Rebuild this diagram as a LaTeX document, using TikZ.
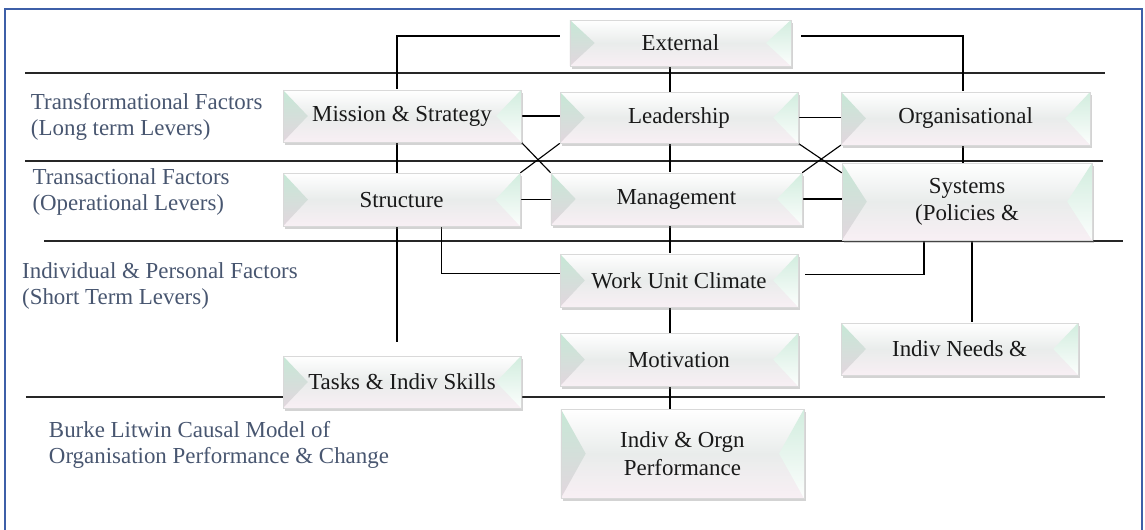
\documentclass[tikz,border=0pt]{standalone}
\usepackage{fontspec}
\setmainfont{Liberation Serif}
\usepackage{tikz}
\usetikzlibrary{shadows, backgrounds}
\definecolor{framebl}{RGB}{61,95,168}
\definecolor{tiertext}{RGB}{72,86,112}
\definecolor{mint}{RGB}{198,232,214}
\definecolor{faceshade}{RGB}{233,236,235}
\definecolor{facepink}{RGB}{248,239,244}
\definecolor{bevelgrey}{RGB}{226,214,222}
\tikzset{
  lever/.style={draw=black!15, line width=0.4pt, inner sep=0pt, align=center,
    text=black!90, font=\fontsize{16.3}{19.4}\selectfont,
    top color=white, bottom color=facepink, middle color=faceshade,
    drop shadow={shadow xshift=0.05cm, shadow yshift=-0.08cm, opacity=0.35},
    path picture={
      \shade[top color=mint, bottom color=bevelgrey]
        (path picture bounding box.north west) -- (path picture bounding box.south west)
        -- ([xshift=0.62cm]path picture bounding box.west) -- cycle;
      \shade[top color=mint!80, bottom color=white!95!mint]
        (path picture bounding box.north east) -- (path picture bounding box.south east)
        -- ([xshift=-0.62cm]path picture bounding box.east) -- cycle;
    }},
  band/.style={line width=0.8pt, black!85},
  link/.style={line width=0.8pt, black},
  tier/.style={anchor=west, align=left, text=tiertext, font=\fontsize{16.3}{18.4}\selectfont}
}

\begin{document}
\begin{tikzpicture}
	\useasboundingbox (0,0) rectangle (28.625,13.25);
	% levers, top to bottom
	\node[lever, minimum width=5.525cm, minimum height=1.15cm] (ext) at (17.01,12.175) {External};
	\node[lever, minimum width=5.95cm, minimum height=1.3cm] (mis) at (10.05,10.35) {Mission \& Strategy};
	\node[lever, minimum width=5.95cm, minimum height=1.275cm] (lead) at (16.975,10.31) {Leadership};
	\node[lever, minimum width=6.225cm, minimum height=1.325cm] (org) at (24.14,10.29) {Organisational};
	\node[lever, minimum width=5.925cm, minimum height=1.325cm] (struct) at (10.04,8.26) {Structure};
	\node[lever, minimum width=6.275cm, minimum height=1.3cm] (mgmt) at (16.91,8.275) {Management};
	\node[lever, minimum width=6.25cm, minimum height=1.925cm] (sys) at (24.175,8.21) {Systems\\(Policies \&};
	\node[lever, minimum width=5.95cm, minimum height=1.325cm] (work) at (16.975,6.24) {Work Unit Climate};
	\node[lever, minimum width=5.95cm, minimum height=1.325cm] (motiv) at (16.975,4.26) {Motivation};
	\node[lever, minimum width=5.95cm, minimum height=1.3cm] (tasks) at (10.05,3.7) {Tasks \& Indiv Skills};
	\node[lever, minimum width=5.925cm, minimum height=1.3cm] (needs) at (23.99,4.525) {Indiv Needs \&};
	\node[lever, minimum width=6.075cm, minimum height=2.225cm] (perf) at (17.06,1.91) {Indiv \& Orgn\\Performance};

	\begin{scope}[on background layer]
		% tier separators
		\foreach \xa/\y/\xb in {0.625/11.425/27.625, 0.625/9.225/27.575, 1.1/7.225/28.075, 0.65/3.325/27.625}
			\draw[band] (\xa,\y) -- (\xb,\y);
		% links
		\draw[link] ([xshift=-0.25cm,yshift=0.175cm]ext.west) -| ([xshift=-0.125cm,yshift=0.35cm]tasks.north);
		\draw[link] ([xshift=0.25cm,yshift=0.175cm]ext.east) -| ([xshift=-0.1cm]sys.north);
		\draw[link] ([xshift=-0.26cm]ext.south) -- ([xshift=-0.26cm]ext.south |- perf.north);
		\draw[link] (mis.east) -- (mis.east -| lead.west);
		\draw[link] (mis.south east) -- (mgmt.north west);
		\draw[link] (lead.south west) -- (struct.north east);
		\draw[link] (struct.east) -- (struct.east -| mgmt.west);
		\draw[link] (lead.east) -- (lead.east -| org.west);
		\draw[link] (lead.south east) -- ([yshift=-0.25cm]sys.north west);
		\draw[link] (org.south west) -- (mgmt.north east);
		\draw[link] (mgmt.east) -- (mgmt.east -| sys.west);
		\draw[link] ([xshift=1cm]struct.south) |- ([yshift=0.175cm]work.west);
		\draw[link] ([xshift=-1.075cm]sys.south) |- ([xshift=0.175cm,yshift=0.15cm]work.east);
		\draw[link] ([xshift=0.125cm]sys.south) -- ([xshift=0.125cm]sys.south |- needs.north);
	\end{scope}

	% tier captions
	\node[tier] (trf) at (0.65,10.325) {Transformational Factors\\(Long term Levers)};
	\node[tier] (trs) at (0.69,8.45) {Transactional Factors\\(Operational Levers)};
	\node[tier] (ind) at (0.43,6.11) {Individual \& Personal Factors\\(Short Term Levers)};
	\node[tier] (ttl) at (1.1,2.125) {Burke Litwin Causal Model of\\Organisation Performance \& Change};

	% outer frame
	\draw[framebl, line width=2.1pt] (0.125,13.025) rectangle (28.55,-0.3);
\end{tikzpicture}
\end{document}
